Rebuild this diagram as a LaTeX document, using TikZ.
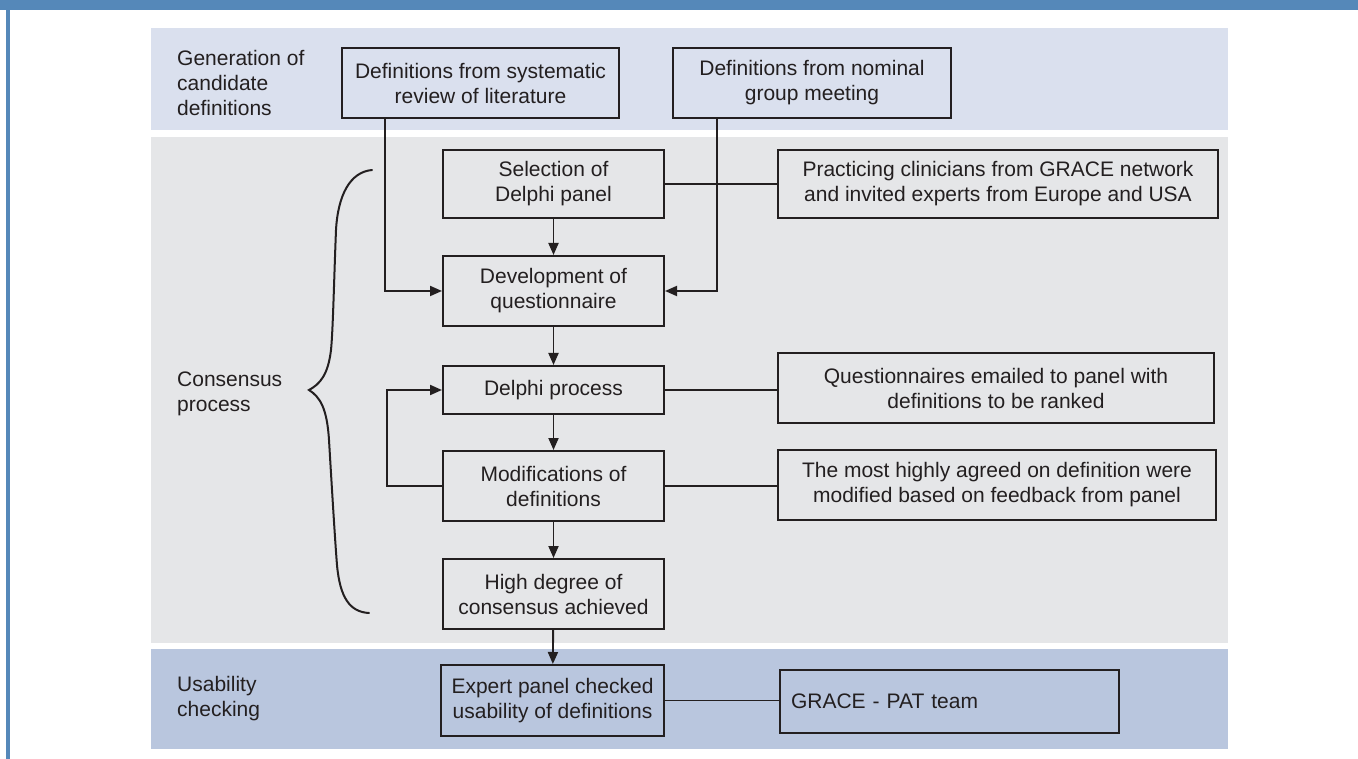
\documentclass[tikz,border=0pt]{standalone}
\usepackage{fontspec}
\setmainfont{Liberation Sans}
\usetikzlibrary{arrows.meta}
\definecolor{hdr}{HTML}{5588B9}
\definecolor{bandA}{HTML}{DAE0EE}
\definecolor{bandB}{HTML}{E5E6E8}
\definecolor{bandC}{HTML}{B9C6DE}
\definecolor{ink}{HTML}{231F20}
\begin{document}
\begin{tikzpicture}[x=1pt,y=-1pt,
  txt/.style={font=\fontsize{21}{25}\selectfont, text=ink},
  box/.style={txt, draw=ink, line width=2pt, align=center, inner sep=0pt, rectangle},
  lbl/.style={txt, align=left, anchor=west, inner sep=0pt},
  conn/.style={draw=ink, line width=1.9pt},
  arr/.style={conn, -{Triangle[length=12pt,width=10pt]}},
  brace/.style={draw=ink, line width=2pt, line cap=round}]
\useasboundingbox (0,0) rectangle (1358,759);
% frame
\fill[hdr] (0,0) rectangle (1358,10);
\fill[hdr] (6,0) rectangle (10,759);
% bands
\fill[bandA] (151,28) rectangle (1228,130);
\fill[bandB] (151,137) rectangle (1228,643);
\fill[bandC] (151,649) rectangle (1228,749);
% stage labels
\node[lbl] (lgen) at (177,83) {Generation of\\candidate\\definitions};
\node[lbl] (lcon) at (177,394) {Consensus\\process};
\node[lbl] (luse) at (177,699) {Usability\\checking};
% boxes
\node[box, minimum width=277pt, minimum height=70pt] (lit) at (480.5,83) {Definitions from systematic\\review of literature};
\node[box, minimum width=278pt, minimum height=70pt] (nom) at (812,83) {Definitions from nominal\\group meeting};
\node[box, minimum width=221pt, minimum height=68pt] (sel) at (553.5,184) {Selection of\\Delphi panel};
\node[box, minimum width=440pt, minimum height=68pt] (prac) at (998,184) {Practicing clinicians from GRACE network\\and invited experts from Europe and USA};
\node[box, minimum width=221pt, minimum height=70pt] (dev) at (553.5,291) {Development of\\questionnaire};
\node[box, minimum width=221pt, minimum height=48pt] (del) at (553.5,390) {Delphi process};
\node[box, minimum width=436pt, minimum height=70pt] (quest) at (996,388) {Questionnaires emailed to panel with\\definitions to be ranked};
\node[box, minimum width=221pt, minimum height=70pt] (mod) at (553.5,486) {Modifications of\\definitions};
\node[box, minimum width=438pt, minimum height=70pt] (most) at (997,485) {The most highly agreed on definition were\\modified based on feedback from panel};
\node[box, minimum width=221pt, minimum height=70pt] (high) at (553.5,594) {High degree of\\consensus achieved};
\node[box, minimum width=223pt, minimum height=71pt] (exp) at (552.5,700.5) {Expert panel checked\\usability of definitions};
\node[box, minimum height=63pt, text width=317pt, inner xsep=11pt, align=left] (grace) at (949.5,701.5) {GRACE - PAT team};
% helper coordinates
\coordinate (litx) at (385,0);
\coordinate (nomx) at (717,0);
\coordinate (loopx) at (387,0);
% connectors
\draw[arr] (lit.south -| litx) |- (dev.west);
\draw[arr] (nom.south -| nomx) |- (dev.east);
\draw[conn] (sel.east) -- (prac.west);
\draw[arr] (sel) -- (dev);
\draw[arr] (dev) -- (del);
\draw[conn] (del.east) -- (del.east -| quest.west);
\draw[arr] (del) -- (mod);
\draw[conn] (mod.east) -- (mod.east -| most.west);
\draw[arr] (mod.west) -- (mod.west -| loopx) |- (del.west);
\draw[arr] (mod) -- (high);
\draw[arr] (high) -- (exp);
\draw[conn] (exp.east) -- (exp.east -| grace.west);
% brace
\draw[brace] (372,170) .. controls (350,172) and (338,195) .. (336,230)
  .. controls (334,280) and (333,330) .. (331,350)
  .. controls (328,375) and (320,384) .. (309,390)
  .. controls (320,397) and (327,408) .. (329,440)
  .. controls (332,490) and (335,540) .. (337,565)
  .. controls (340,598) and (350,612) .. (369,613);
\end{tikzpicture}
\end{document}
